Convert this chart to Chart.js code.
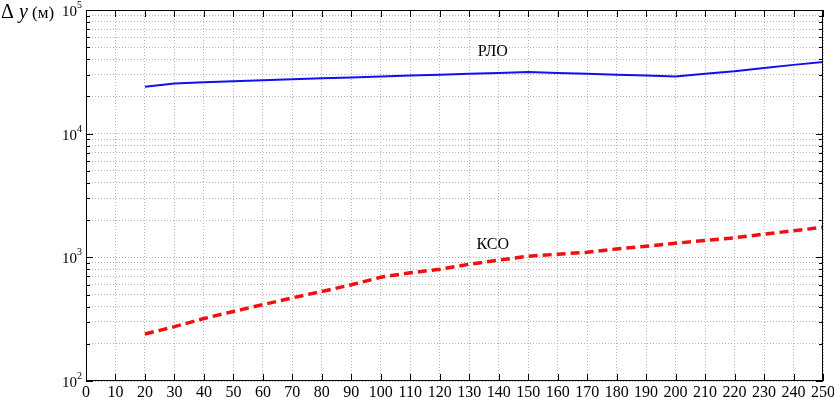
<!DOCTYPE html>
<html lang="en">
<head>
  <meta charset="UTF-8">
  <script src="https://cdn.jsdelivr.net/npm/chart.js"></script>
  <title>Δy</title>
  <style>
    html, body { margin: 0; padding: 0; background: #fff; }
    #wrap { width: 834px; height: 397px; }
  </style>
</head>
<body>
  <div id="wrap"><canvas id="myChart"></canvas></div>
  <script>
    // x (distance) values and the two series
    const xValues = [20, 30, 40, 50, 60, 70, 80, 90, 100, 110, 120, 130, 140, 150, 160, 170, 180, 190, 200, 210, 220, 230, 240, 250];
    const rloValues = [24000, 25500, 26000, 26500, 27000, 27500, 28000, 28500, 29000, 29500, 30000, 30500, 31000, 31500, 31000, 30500, 30000, 29500, 29000, 30500, 32000, 34000, 36000, 38000];
    const ksoValues = [240, 275, 320, 365, 415, 470, 530, 600, 690, 750, 800, 880, 950, 1020, 1060, 1100, 1170, 1230, 1300, 1370, 1440, 1540, 1640, 1750];
    const xTicks = [0, 10, 20, 30, 40, 50, 60, 70, 80, 90, 100, 110, 120, 130, 140, 150, 160, 170, 180, 190, 200, 210, 220, 230, 240, 250];
    const yDecades = [2, 3, 4, 5];
    const seriesLabels = ['РЛО', 'КСО'];
    const labelPos = [[138, 46000], [138, 1260]];

    const serif = "'Liberation Serif', 'DejaVu Serif', serif";

    const toPoints = (vals) => vals.map((v, i) => ({ x: xValues[i], y: v }));

    // box, inward ticks, tick labels, series names
    const matlabFrame = {
      id: 'matlabFrame',
      afterDraw(chart) {
        const { ctx, chartArea: a, scales } = chart;
        const xs = scales.x, ys = scales.y;
        ctx.save();
        ctx.strokeStyle = '#000';
        ctx.lineWidth = 1;
        ctx.strokeRect(a.left + 0.5, a.top + 0.5, a.right - a.left - 1, a.bottom - a.top - 1);
        ctx.beginPath();
        xTicks.forEach(v => {
          const px = Math.round(xs.getPixelForValue(v)) + 0.5;
          ctx.moveTo(px, a.bottom); ctx.lineTo(px, a.bottom - 7);
          ctx.moveTo(px, a.top); ctx.lineTo(px, a.top + 7);
        });
        for (let d = 2; d < 5; d++) {
          for (let m = 1; m <= 9; m++) {
            const py = Math.round(ys.getPixelForValue(m * Math.pow(10, d))) + 0.5;
            const len = m === 1 ? 7 : 4;
            ctx.moveTo(a.left, py); ctx.lineTo(a.left + len, py);
            ctx.moveTo(a.right, py); ctx.lineTo(a.right - len, py);
          }
        }
        ctx.stroke();

        ctx.fillStyle = '#000';
        ctx.textBaseline = 'alphabetic';
        ctx.font = '16px ' + serif;
        ctx.textAlign = 'center';
        xTicks.forEach(v => {
          ctx.fillText(String(v), xs.getPixelForValue(v), 397);
        });

        yDecades.forEach(d => {
          const py = ys.getPixelForValue(Math.pow(10, d));
          ctx.font = '15px ' + serif;
          ctx.textAlign = 'right';
          ctx.fillText('10', a.left - 9, py + 6);
          ctx.font = '10px ' + serif;
          ctx.textAlign = 'left';
          ctx.fillText(String(d), a.left - 9, py - 2);
        });

        ctx.font = '16px ' + serif;
        ctx.textAlign = 'center';
        ctx.textBaseline = 'middle';
        seriesLabels.forEach((t, i) => {
          ctx.fillText(t, xs.getPixelForValue(labelPos[i][0]), ys.getPixelForValue(labelPos[i][1]));
        });

        // axis title
        ctx.textAlign = 'left';
        ctx.textBaseline = 'alphabetic';
        ctx.font = '20px ' + serif;
        ctx.fillText('Δ', 1, 18);
        ctx.font = 'italic 20px ' + serif;
        ctx.fillText('y', 19, 18);
        ctx.font = '17px ' + serif;
        ctx.fillText('(м)', 32, 18);
        ctx.restore();
      }
    };

    const ctx = document.getElementById('myChart');
    new Chart(ctx, {
      type: 'line',
      data: {
        datasets: [{
          label: seriesLabels[0],
          data: toPoints(rloValues),
          borderColor: '#1010f0',
          borderWidth: 2,
          pointRadius: 0,
          tension: 0
        }, {
          label: seriesLabels[1],
          data: toPoints(ksoValues),
          borderColor: '#f01010',
          borderWidth: 3.5,
          borderDash: [9, 5],
          pointRadius: 0,
          tension: 0
        }]
      },
      options: {
        responsive: true,
        maintainAspectRatio: false,
        animation: false,
        layout: { padding: { top: 10, right: 11, left: 0, bottom: 0 } },
        plugins: { legend: { display: false }, tooltip: { enabled: false } },
        scales: {
          x: {
            type: 'linear',
            min: 0,
            max: 250,
            afterBuildTicks(scale) {
              scale.ticks = xTicks.map(v => ({ value: v }));
            },
            ticks: { display: false },
            grid: { color: '#b4b4b4', drawTicks: false, lineWidth: 1 },
            border: { display: false, dash: [1, 2] },
            afterFit(scale) { scale.height = 16; }
          },
          y: {
            type: 'logarithmic',
            min: 100,
            max: 100000,
            afterBuildTicks(scale) {
              const t = [];
              for (let d = 2; d < 5; d++) {
                for (let m = 1; m <= 9; m++) t.push({ value: m * Math.pow(10, d) });
              }
              t.push({ value: 100000 });
              scale.ticks = t;
            },
            ticks: { display: false },
            grid: { color: '#b4b4b4', drawTicks: false, lineWidth: 1 },
            border: { display: false, dash: [1, 2] },
            afterFit(scale) { scale.width = 86; }
          }
        }
      },
      plugins: [matlabFrame]
    });
  </script>
</body>
</html>
